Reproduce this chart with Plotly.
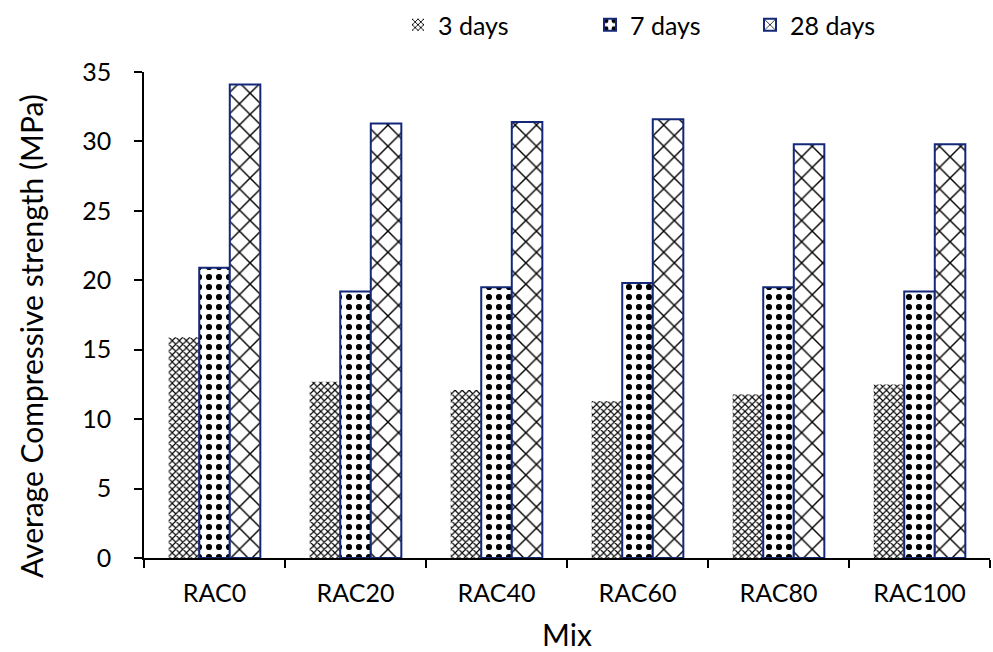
import plotly.graph_objects as go

mixes = ["RAC0", "RAC20", "RAC40", "RAC60", "RAC80", "RAC100"]
days3 = [15.9, 12.7, 12.1, 11.3, 11.8, 12.5]
days7 = [20.9, 19.2, 19.5, 19.8, 19.5, 19.2]
days28 = [34.1, 31.3, 31.4, 31.6, 29.8, 29.8]
series_names = ["3 days", "7 days", "28 days"]
y_title = "Average Compressive strength (MPa)"

navy = "#14287a"
font = "Lato, 'Open Sans', sans-serif"
W, H = 993, 652
L, R, T, B = 144, 3, 72, 94

fig = go.Figure()
fig.add_trace(go.Bar(
    x=mixes, y=days3, name=series_names[0], legend="legend", showlegend=True,
    marker=dict(color="white", line=dict(width=0),
                pattern=dict(shape="x", size=5, solidity=0.4, fgcolor="black",
                             bgcolor="white", fgopacity=1)),
))
fig.add_trace(go.Bar(
    x=mixes, y=days7, name=series_names[1], legend="legend2", showlegend=True,
    marker=dict(color="white", line=dict(width=2, color=navy),
                pattern=dict(shape=".", size=10, solidity=0.3, fgcolor="black",
                             bgcolor="white", fgopacity=1)),
))
fig.add_trace(go.Bar(
    x=mixes, y=days28, name=series_names[2], legend="legend3", showlegend=True,
    marker=dict(color="white", line=dict(width=2, color=navy),
                pattern=dict(shape="x", size=15, solidity=0.18, fgcolor="black",
                             bgcolor="white", fgopacity=1)),
))

def leg(xpx):
    return dict(orientation="h", xref="container", yref="container",
                x=xpx / W, y=1 - 25 / H, xanchor="left", yanchor="middle",
                font=dict(size=25, family=font, color="black"),
                bgcolor="rgba(0,0,0,0)", visible=True)

plot_w = W - L - R
plot_h = H - T - B

fig.update_layout(
    width=W, height=H, showlegend=True,
    margin=dict(l=L, r=R, t=T, b=B, autoexpand=False),
    plot_bgcolor="white", paper_bgcolor="white",
    barmode="group", bargap=0.35, bargroupgap=0,
    font=dict(family=font, size=25, color="black"),
    legend=leg(398), legend2=leg(590), legend3=leg(750),
    xaxis=dict(
        title=dict(text="Mix", font=dict(size=30), standoff=27),
        showline=True, linecolor="black", linewidth=1.5,
        ticks="outside", tickson="boundaries", ticklen=8, tickcolor="black", tickwidth=1.5,
        tickfont=dict(size=25), ticklabelstandoff=12,
    ),
    yaxis=dict(
        range=[0, 35], dtick=5,
        showline=True, linecolor="black", linewidth=1.5,
        ticks="outside", ticklen=8, tickcolor="black", tickwidth=1.5,
        showgrid=False, zeroline=False,
        tickfont=dict(size=25), ticklabelstandoff=18,
    ),
    annotations=[dict(
        text=y_title, textangle=-90, showarrow=False,
        xref="paper", yref="paper",
        x=(31 - L) / plot_w, y=(H - B - 336) / plot_h,
        xanchor="center", yanchor="middle",
        font=dict(size=30, family=font, color="black"),
    )],
)

fig.write_html("out.html", config={"displayModeBar": False},
               post_script="document.body.style.margin='0';document.body.style.padding='0';")
